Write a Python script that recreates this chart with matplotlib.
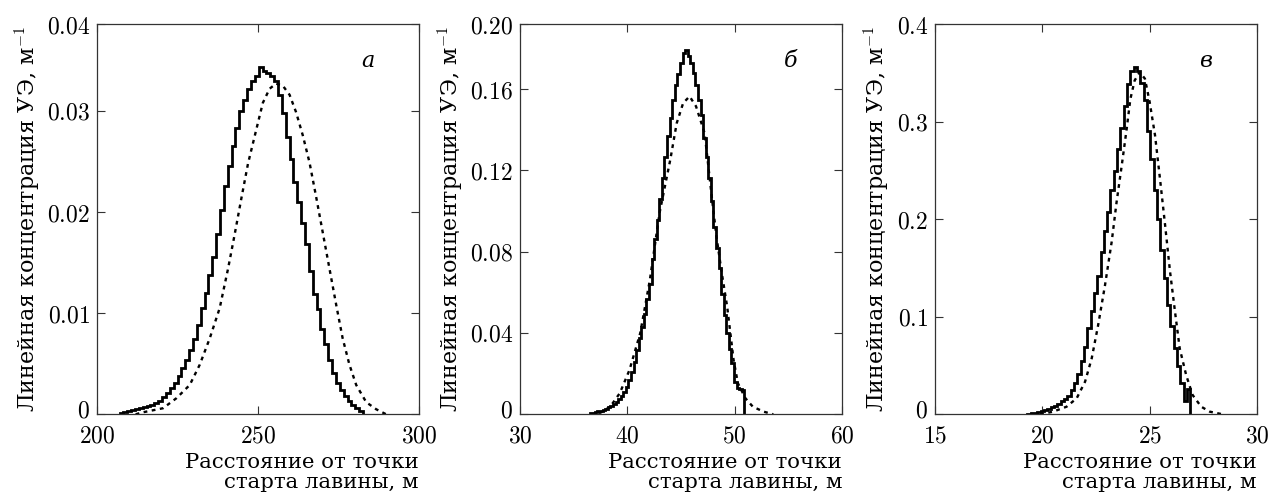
import numpy as np
import matplotlib
matplotlib.use("Agg")
import matplotlib.pyplot as plt
import matplotlib.transforms as mtransforms

plt.rcParams['font.family'] = ['DejaVu Serif']
plt.rcParams['mathtext.fontset'] = 'cm'

# ---------------- Panel a ----------------
a_start, a_width = 207.0, 1.2
a_hist = [0.0001, 0.0002, 0.0003, 0.0004, 0.0005, 0.0006, 0.0007, 0.0008, 0.0009, 0.0011,
          0.0013, 0.0017, 0.0021, 0.0026, 0.0031, 0.0038, 0.0046, 0.0054, 0.0064, 0.0074,
          0.0088, 0.0105, 0.0120, 0.0138, 0.0156, 0.0178, 0.0202, 0.0226, 0.0246, 0.0265,
          0.0283, 0.0300, 0.0311, 0.0322, 0.0330, 0.0335, 0.0343, 0.0340, 0.0338, 0.0335,
          0.0330, 0.0316, 0.0298, 0.0274, 0.0252, 0.0230, 0.0210, 0.0189, 0.0168, 0.0142,
          0.0119, 0.0104, 0.0084, 0.0070, 0.0054, 0.0041, 0.0031, 0.0024, 0.0018, 0.0013,
          0.0009, 0.0006, 0.0003]
a_curve_x = [212.0, 214.3, 220.5, 224.7, 228.8, 231.9, 235.0, 238.1, 240.7, 242.7, 244.8,
             246.9, 249.5, 251.5, 253.6, 255.6, 257.7, 259.8, 261.8, 263.9, 266.0, 268.0,
             270.1, 272.2, 274.3, 276.3, 278.4, 280.5, 283.6, 286.7, 289.8]
a_curve_y = [0.0, 0.0002, 0.0006, 0.0016, 0.0029, 0.0049, 0.0075, 0.0105, 0.0144, 0.0177, 0.0213,
             0.0248, 0.0282, 0.0308, 0.0322, 0.0327, 0.0325, 0.0316, 0.0299, 0.0276, 0.0249, 0.0216,
             0.0180, 0.0144, 0.0108, 0.0075, 0.0049, 0.0029, 0.0012, 0.0005, 0.0]

# ---------------- Panel b ----------------
b_start, b_width = 36.5, 0.24
b_hist = [0.0004, 0.0006, 0.0010, 0.0014, 0.0018, 0.0023, 0.0028, 0.0034, 0.0042, 0.0052,
          0.0062, 0.0075, 0.0090, 0.0108, 0.0135, 0.0170, 0.0210, 0.0255, 0.0318, 0.0375,
          0.0430, 0.0495, 0.0565, 0.0640, 0.0765, 0.0860, 0.0955, 0.1060, 0.1160, 0.1265,
          0.1370, 0.1460, 0.1548, 0.1620, 0.1675, 0.1730, 0.1775, 0.1790, 0.1765, 0.1730,
          0.1680, 0.1620, 0.1545, 0.1470, 0.1360, 0.1265, 0.1160, 0.1050, 0.0920, 0.0820,
          0.0720, 0.0590, 0.0490, 0.0400, 0.0320, 0.0250, 0.0160, 0.0130, 0.0125, 0.0120]
b_curve_x = [36.6, 37.5, 38.4, 39.3, 40.2, 41.2, 42.1, 43.0, 44.0, 44.6, 45.2, 45.8, 46.4,
             47.2, 47.9, 48.3, 48.8, 49.3, 49.6, 49.9, 50.3, 51.0, 51.7, 52.7, 53.6]
b_curve_y = [0.0, 0.0008, 0.0037, 0.0104, 0.0218, 0.0399, 0.0661, 0.0990, 0.1252, 0.1432,
             0.1531, 0.1564, 0.1515, 0.1383, 0.1055, 0.0875, 0.0694, 0.0530, 0.0399, 0.0267,
             0.0153, 0.0079, 0.0037, 0.0013, 0.0]

# ---------------- Panel c ----------------
c_start, c_width = 19.30, 0.155
c_hist = [0.0005, 0.0010, 0.0015, 0.0022, 0.0030, 0.0040, 0.0055, 0.0072, 0.0090, 0.0110,
          0.0135, 0.0155, 0.0190, 0.0250, 0.0320, 0.0410, 0.0550, 0.0690, 0.0880, 0.1060,
          0.1240, 0.1420, 0.1660, 0.1880, 0.2070, 0.2300, 0.2490, 0.2720, 0.2930, 0.3160,
          0.3380, 0.3520, 0.3560, 0.3520, 0.3400, 0.3220, 0.2900, 0.2620, 0.2300, 0.2000,
          0.1680, 0.1400, 0.1120, 0.0900, 0.0680, 0.0500, 0.0320, 0.0140, 0.0260]
c_curve_x = [19.9, 20.5, 21.13, 21.6, 21.99, 22.3, 22.6, 22.92, 23.23, 23.46, 23.7, 23.93,
             24.1, 24.3, 24.54, 24.78, 25.0, 25.25, 25.48, 25.72, 25.95, 26.2, 26.4, 26.7,
             27.0, 27.4, 27.8, 28.4]
c_curve_y = [0.0, 0.0027, 0.0078, 0.0164, 0.0334, 0.0573, 0.0914, 0.1324, 0.1767, 0.2177,
             0.2552, 0.2927, 0.3230, 0.3421, 0.3507, 0.3439, 0.3200, 0.2859, 0.2415, 0.1937,
             0.1460, 0.1017, 0.0675, 0.0402, 0.0198, 0.0078, 0.0027, 0.0]

panels = [
    dict(start=a_start, width=a_width, hist=a_hist, cx=a_curve_x, cy=a_curve_y,
         xlim=(200, 300), xticks=[200, 250, 300], ylim=(0, 0.0386),
         yticks=[0, 0.01, 0.02, 0.03, 0.0386], ylabels=['0', '0.01', '0.02', '0.03', '0.04'],
         letter='а', left=97),
    dict(start=b_start, width=b_width, hist=b_hist, cx=b_curve_x, cy=b_curve_y,
         xlim=(30, 60), xticks=[30, 40, 50, 60], ylim=(0, 0.192),
         yticks=[0, 0.04, 0.08, 0.12, 0.16, 0.192], ylabels=['0', '0.04', '0.08', '0.12', '0.16', '0.20'],
         letter='б', left=520),
    dict(start=c_start, width=c_width, hist=c_hist, cx=c_curve_x, cy=c_curve_y,
         xlim=(15, 30), xticks=[15, 20, 25, 30], ylim=(0, 0.4),
         yticks=[0, 0.1, 0.2, 0.3, 0.4], ylabels=['0', '0.1', '0.2', '0.3', '0.4'],
         letter='в', left=935),
]

W, H = 1268, 495
fig = plt.figure(figsize=(W / 100, H / 100), dpi=100)

for p in panels:
    ax = fig.add_axes([p['left'] / W, (H - 414.3) / H, 322 / W, 390.3 / H])
    edges = p['start'] + p['width'] * np.arange(len(p['hist']) + 1)
    hv = np.array(p['hist'])
    xs = np.concatenate([[edges[0]], np.repeat(edges[1:-1], 2), [edges[-1]]])
    ys = np.repeat(hv, 2)
    xs = np.concatenate([[edges[0]], xs, [edges[-1]]])
    ys = np.concatenate([[0], ys, [0]])
    ax.plot(xs, ys, color='black', lw=2.0, solid_joinstyle='miter')
    ax.plot(p['cx'], p['cy'], color='black', lw=1.7, linestyle=(0, (1.6, 1.9)))
    ax.set_xlim(*p['xlim'])
    ax.set_ylim(*p['ylim'])
    ax.set_xticks(p['xticks'])
    ax.set_xticklabels([f'${v}$' for v in p['xticks']])
    ax.set_yticks(p['yticks'])
    ax.set_yticklabels([f'${v}$' for v in p['ylabels']])
    ax.tick_params(direction='in', top=True, right=True, length=6, width=0.8,
                   labelsize=17, color='#333333')
    ax.tick_params(axis='x', pad=7)
    ax.tick_params(axis='y', pad=5)
    # the "0" label sits slightly above the axis bottom in the reference
    zero_lbl = ax.get_yticklabels()[0]
    zero_lbl.set_transform(zero_lbl.get_transform() +
                           mtransforms.ScaledTranslation(0, 6 / 100, fig.dpi_scale_trans))
    for s in ax.spines.values():
        s.set_linewidth(0.9)
        s.set_color('#333333')
    ax.set_ylabel('Линейная концентрация УЭ, м$^{-1}$', fontsize=16, labelpad=3)
    ax.text(0.84, 0.905, p['letter'], transform=ax.transAxes, fontsize=16,
            style='italic', ha='center', va='center')
    ax.text(1.0, -0.1, 'Расстояние от точки\nстарта лавины, м', transform=ax.transAxes,
            ha='right', va='top', fontsize=15.3, linespacing=1.05)

fig.savefig('out.png', dpi=100)
